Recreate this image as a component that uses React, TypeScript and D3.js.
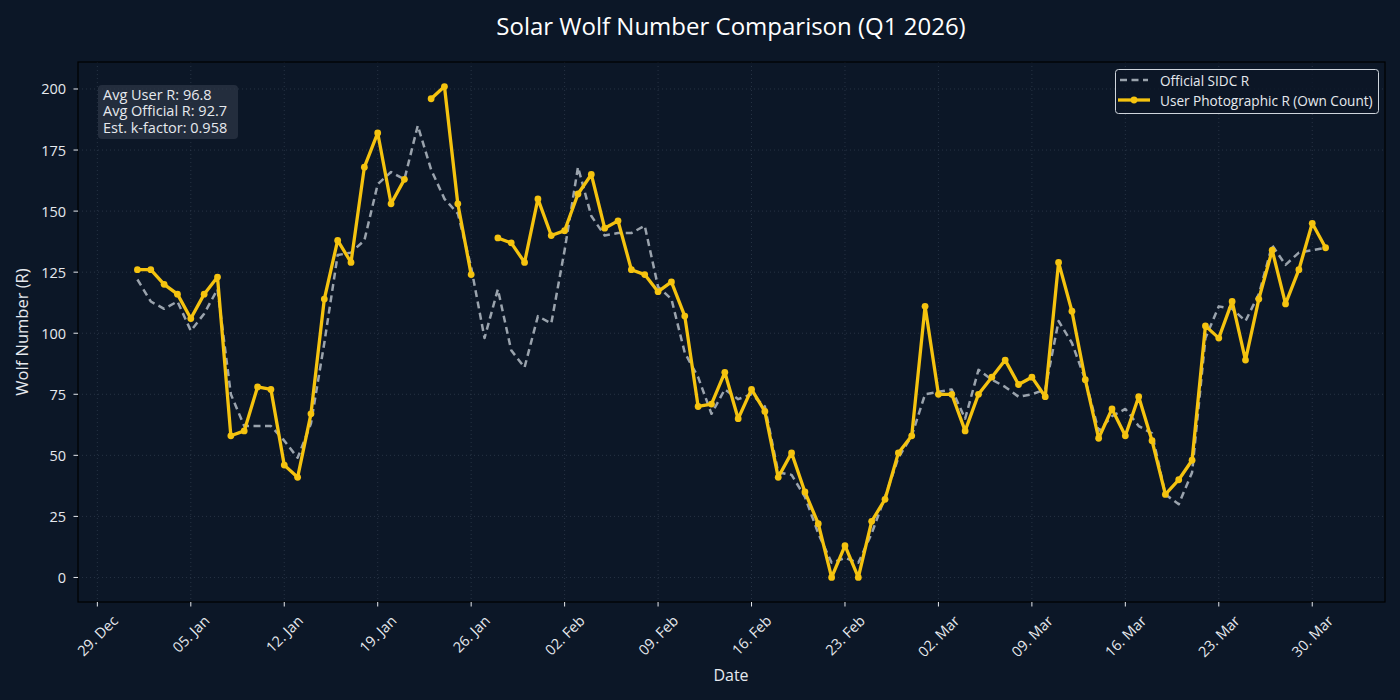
import React, { useEffect, useRef } from "react";
import * as d3 from "d3";

// Daily Wolf numbers, Q1 2026 (Jan 1 – Mar 31). null = no observation.
const userJan = [126, 126, 120, 116, 106, 116, 123, 58, 60, 78, 77, 46, 41, 67, 114, 138, 129, 168, 182, 153, 163, null, 196, 201, 153, 124, null, 139, 137, 129, 155];
const userFeb = [140, 142, 157, 165, 143, 146, 126, 124, 117, 121, 107, 70, 71, 84, 65, 77, 68, 41, 51, 35, 22, 0, 13, 0, 23, 32, 51, 58];
const userMar = [111, 75, 75, 60, 75, 82, 89, 79, 82, 74, 129, 109, 81, 57, 69, 58, 74, 56, 34, 40, 48, 103, 98, 113, 89, 114, 134, 112, 126, 145, 135];

const officialJan = [122, 113, 110, 113, 101, 108, 118, 75, 62, 62, 62, 56, 49, 63, 96, 132, 133, 138, 161, 166, 163, 185, 167, 155, 149, 127, 98, 118, 93, 86, 107];
const officialFeb = [104, 134, 168, 148, 140, 141, 141, 144, 119, 114, 92, 82, 67, 77, 73, 75, 70, 43, 42, 33, 18, 6, 8, 6, 18, 33, 49, 58];
const officialMar = [75, 76, 77, 65, 85, 81, 78, 74, 75, 77, 105, 96, 81, 60, 66, 69, 62, 59, 34, 30, 43, 98, 111, 110, 105, 116, 136, 128, 133, 134, 135];

const yTicks = [0, 25, 50, 75, 100, 125, 150, 175, 200];
const statLines = ["Avg User R: 96.8", "Avg Official R: 92.7", "Est. k-factor: 0.958"];
const legendLabels = ["Official SIDC R", "User Photographic R (Own Count)"];

const TITLE = "Solar Wolf Number Comparison (Q1 2026)";
const FONT = "'Open Sans', sans-serif";

const BG = "#0c1727";
const YELLOW = "#f5c30f";
const GRAY = "#9aa3ad";
const TEXT = "#e6e9ee";

const W = 1400;
const H = 700;
const M = { left: 78, right: 1385, top: 62, bottom: 602 };

export default function App() {
  const ref = useRef<SVGSVGElement | null>(null);

  useEffect(() => {
    const svg = d3.select(ref.current);
    svg.selectAll("*").remove();

    const start = new Date(Date.UTC(2026, 0, 1));
    const end = new Date(Date.UTC(2026, 2, 31));
    const days = d3.utcDay.range(start, d3.utcDay.offset(end, 1));
    const userVals = [...userJan, ...userFeb, ...userMar];
    const offVals = [...officialJan, ...officialFeb, ...officialMar];
    const user = days.map((d, i) => ({ d, v: userVals[i] as number | null }));
    const official = days.map((d, i) => ({ d, v: offVals[i] as number | null }));

    // 5% padding on both axes
    const spanMs = +end - +start;
    const x = d3
      .scaleUtc()
      .domain([new Date(+start - spanMs * 0.05), new Date(+end + spanMs * 0.05)])
      .range([M.left, M.right]);
    const yMax = 201;
    const y = d3
      .scaleLinear()
      .domain([-yMax * 0.05, yMax * 1.05])
      .range([M.bottom, M.top]);

    svg.append("rect").attr("width", W).attr("height", H).attr("fill", BG);

    // Title
    svg
      .append("text")
      .attr("x", 731)
      .attr("y", 35)
      .attr("text-anchor", "middle")
      .attr("fill", "#ffffff")
      .attr("font-family", FONT)
      .attr("font-size", 24)
      .text(TITLE);

    const xTicks = d3.utcMonday.every(1)!.range(x.domain()[0], x.domain()[1]);

    // Grid
    const grid = svg.append("g");
    grid
      .selectAll("line.gx")
      .data(xTicks)
      .join("line")
      .attr("x1", (d) => x(d))
      .attr("x2", (d) => x(d))
      .attr("y1", M.top)
      .attr("y2", M.bottom)
      .attr("stroke", "#3d495b")
      .attr("stroke-opacity", 0.7)
      .attr("stroke-width", 0.8)
      .attr("stroke-dasharray", "1,3");
    grid
      .selectAll("line.gy")
      .data(yTicks)
      .join("line")
      .attr("x1", M.left)
      .attr("x2", M.right)
      .attr("y1", (d) => y(d))
      .attr("y2", (d) => y(d))
      .attr("stroke", "#3d495b")
      .attr("stroke-opacity", 0.7)
      .attr("stroke-width", 0.8)
      .attr("stroke-dasharray", "1,3");

    // Series
    const line = d3
      .line<{ d: Date; v: number | null }>()
      .defined((p) => p.v !== null)
      .x((p) => x(p.d))
      .y((p) => y(p.v as number));

    svg
      .append("path")
      .datum(official)
      .attr("d", line)
      .attr("fill", "none")
      .attr("stroke", GRAY)
      .attr("stroke-width", 2.5)
      .attr("stroke-dasharray", "7,4.5")
      .attr("stroke-linejoin", "round");

    svg
      .append("path")
      .datum(user)
      .attr("d", line)
      .attr("fill", "none")
      .attr("stroke", YELLOW)
      .attr("stroke-width", 3.3)
      .attr("stroke-linejoin", "round");

    svg
      .append("g")
      .selectAll("circle")
      .data(user.filter((p) => p.v !== null))
      .join("circle")
      .attr("cx", (p) => x(p.d))
      .attr("cy", (p) => y(p.v as number))
      .attr("r", 3.4)
      .attr("fill", YELLOW);

    // Frame
    svg
      .append("rect")
      .attr("x", M.left)
      .attr("y", M.top)
      .attr("width", M.right - M.left)
      .attr("height", M.bottom - M.top)
      .attr("fill", "none")
      .attr("stroke", "#000000")
      .attr("stroke-width", 1.2);

    // X axis: labels rotated 45°, bounding box centred under each tick
    const fmt = d3.utcFormat("%d. %b");
    const xa = svg.append("g");
    xa.selectAll("line")
      .data(xTicks)
      .join("line")
      .attr("x1", (d) => x(d))
      .attr("x2", (d) => x(d))
      .attr("y1", M.bottom)
      .attr("y2", M.bottom + 4.5)
      .attr("stroke", TEXT)
      .attr("stroke-width", 1);
    const labelSize = 14.5;
    xa.selectAll("text")
      .data(xTicks)
      .join("text")
      .attr("text-anchor", "middle")
      .attr("dominant-baseline", "central")
      .attr("fill", TEXT)
      .attr("font-family", FONT)
      .attr("font-size", labelSize)
      .text((d) => fmt(d))
      .attr("transform", function (d) {
        const len = (this as SVGTextElement).getComputedTextLength();
        const half = (len + labelSize * 0.75) / (2 * Math.SQRT2);
        return `translate(${x(d)},${M.bottom + 12 + half}) rotate(-45)`;
      });

    // Y axis
    const ya = svg.append("g");
    ya.selectAll("line")
      .data(yTicks)
      .join("line")
      .attr("x1", M.left - 4.5)
      .attr("x2", M.left)
      .attr("y1", (d) => y(d))
      .attr("y2", (d) => y(d))
      .attr("stroke", TEXT)
      .attr("stroke-width", 1);
    ya.selectAll("text")
      .data(yTicks)
      .join("text")
      .attr("x", M.left - 12)
      .attr("y", (d) => y(d))
      .attr("text-anchor", "end")
      .attr("dominant-baseline", "central")
      .attr("fill", TEXT)
      .attr("font-family", FONT)
      .attr("font-size", 14.5)
      .text((d) => String(d));

    // Axis labels
    svg
      .append("text")
      .attr("x", 731)
      .attr("y", 681)
      .attr("text-anchor", "middle")
      .attr("fill", TEXT)
      .attr("font-family", FONT)
      .attr("font-size", 16)
      .text("Date");
    svg
      .append("text")
      .attr("transform", `translate(27.5,${(M.top + M.bottom) / 2}) rotate(-90)`)
      .attr("text-anchor", "middle")
      .attr("fill", TEXT)
      .attr("font-family", FONT)
      .attr("font-size", 16.5)
      .text("Wolf Number (R)");

    // Stats box
    svg
      .append("rect")
      .attr("x", 98)
      .attr("y", 85)
      .attr("width", 140)
      .attr("height", 54)
      .attr("rx", 4)
      .attr("fill", "#2b3545")
      .attr("fill-opacity", 0.75);
    svg
      .append("g")
      .selectAll("text")
      .data(statLines)
      .join("text")
      .attr("x", 103)
      .attr("y", (_, i) => 99.5 + i * 16.7)
      .attr("fill", TEXT)
      .attr("font-family", FONT)
      .attr("font-size", 14.5)
      .text((d) => d);

    // Legend
    const lg = svg.append("g");
    lg.append("rect")
      .attr("x", 1115.5)
      .attr("y", 69.5)
      .attr("width", 263)
      .attr("height", 44)
      .attr("rx", 3)
      .attr("fill", BG)
      .attr("fill-opacity", 0.8)
      .attr("stroke", "#cfd5dc")
      .attr("stroke-width", 1);
    lg.append("line")
      .attr("x1", 1120)
      .attr("x2", 1148)
      .attr("y1", 80)
      .attr("y2", 80)
      .attr("stroke", GRAY)
      .attr("stroke-width", 2.5)
      .attr("stroke-dasharray", "7,4.5");
    lg.append("line")
      .attr("x1", 1118)
      .attr("x2", 1150)
      .attr("y1", 100)
      .attr("y2", 100)
      .attr("stroke", YELLOW)
      .attr("stroke-width", 3.3);
    lg.append("circle").attr("cx", 1134).attr("cy", 100).attr("r", 3.4).attr("fill", YELLOW);
    lg.selectAll("text")
      .data(legendLabels)
      .join("text")
      .attr("x", 1160)
      .attr("y", (_, i) => 80 + i * 20)
      .attr("dominant-baseline", "central")
      .attr("fill", TEXT)
      .attr("font-family", FONT)
      .attr("font-size", 13.6)
      .text((d) => d);
  }, []);

  return (
    <svg
      ref={ref}
      width={W}
      height={H}
      style={{ position: "fixed", left: 0, top: 0, display: "block" }}
    />
  );
}
